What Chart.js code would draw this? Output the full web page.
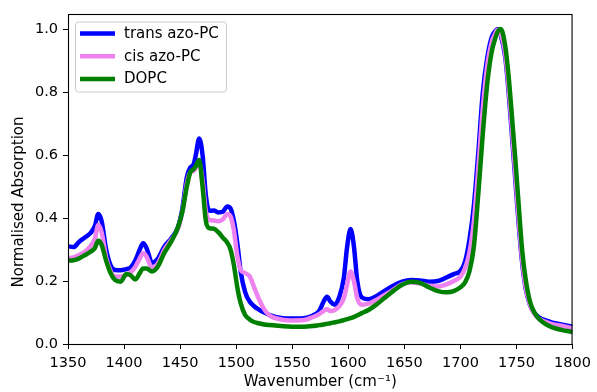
<!DOCTYPE html>
<html>
<head>
<meta charset="utf-8">
<script src="https://cdn.jsdelivr.net/npm/chart.js@4/dist/chart.umd.min.js"></script>
<style>
  html, body { margin: 0; padding: 0; background: #fff; }
  #wrap { width: 597px; height: 392px; }
</style>
</head>
<body>
<div id="wrap"><canvas id="chart" width="597" height="392"></canvas></div>
<script>
(function () {
  'use strict';

  // wavenumber grid (cm-1) the spectra were read at
  var wavenumber = [
    1350, 1355, 1360, 1365, 1370, 1374, 1377, 1380, 1384, 1388,
    1392, 1397, 1402, 1406, 1410, 1414, 1417, 1420, 1425, 1430,
    1436, 1442, 1448, 1452, 1456, 1459, 1462, 1464, 1467, 1470,
    1473, 1476, 1480, 1484, 1488, 1492, 1495, 1498, 1501, 1504,
    1508, 1512, 1516, 1520, 1525, 1530, 1540, 1550, 1560, 1568,
    1574, 1578, 1581, 1584, 1588, 1592, 1596, 1599, 1602, 1605,
    1608, 1612, 1618, 1625, 1632, 1640, 1648, 1656, 1664, 1672,
    1680, 1688, 1694, 1700, 1704, 1708, 1712, 1716, 1720, 1724,
    1728, 1731, 1733, 1736, 1740, 1743, 1746, 1749, 1752, 1755,
    1758, 1762, 1766, 1770, 1776, 1782, 1790, 1800
  ];

  var transAzoPC = [
    0.310, 0.308, 0.325, 0.338, 0.352, 0.375, 0.413, 0.390, 0.300, 0.250,
    0.235, 0.234, 0.238, 0.243, 0.265, 0.300, 0.320, 0.305, 0.258, 0.270,
    0.310, 0.335, 0.370, 0.430, 0.530, 0.560, 0.570, 0.600, 0.653, 0.600,
    0.470, 0.423, 0.424, 0.418, 0.420, 0.437, 0.430, 0.390, 0.320, 0.230,
    0.165, 0.135, 0.120, 0.110, 0.100, 0.092, 0.083, 0.081, 0.082, 0.090,
    0.105, 0.135, 0.150, 0.135, 0.125, 0.150, 0.210, 0.310, 0.365, 0.310,
    0.200, 0.148, 0.142, 0.152, 0.168, 0.185, 0.198, 0.203, 0.202, 0.198,
    0.200, 0.212, 0.222, 0.232, 0.260, 0.330, 0.440, 0.610, 0.800, 0.910,
    0.975, 0.993, 1.000, 0.980, 0.910, 0.800, 0.660, 0.520, 0.380, 0.260,
    0.180, 0.125, 0.098, 0.085, 0.075, 0.068, 0.062, 0.055
  ];

  var cisAzoPC = [
    0.272, 0.275, 0.283, 0.293, 0.310, 0.335, 0.378, 0.355, 0.275, 0.232,
    0.214, 0.214, 0.220, 0.228, 0.245, 0.272, 0.288, 0.278, 0.242, 0.255,
    0.300, 0.330, 0.365, 0.420, 0.510, 0.545, 0.550, 0.560, 0.575, 0.520,
    0.420, 0.394, 0.392, 0.390, 0.395, 0.413, 0.405, 0.360, 0.280, 0.235,
    0.225, 0.215, 0.180, 0.145, 0.110, 0.090, 0.078, 0.075, 0.076, 0.085,
    0.095, 0.105, 0.110, 0.105, 0.108, 0.120, 0.145, 0.190, 0.230, 0.200,
    0.145, 0.125, 0.128, 0.140, 0.155, 0.172, 0.190, 0.195, 0.192, 0.185,
    0.183, 0.190, 0.200, 0.214, 0.240, 0.290, 0.390, 0.560, 0.750, 0.885,
    0.960, 0.985, 0.998, 0.985, 0.920, 0.815, 0.680, 0.540, 0.395, 0.270,
    0.185, 0.125, 0.095, 0.080, 0.070, 0.063, 0.058, 0.050
  ];

  var dopc = [
    0.265, 0.266, 0.272, 0.282, 0.293, 0.305, 0.328, 0.315, 0.265, 0.225,
    0.203, 0.198, 0.222, 0.218, 0.205, 0.225, 0.240, 0.240, 0.230, 0.245,
    0.290, 0.325, 0.370, 0.420, 0.500, 0.545, 0.555, 0.565, 0.584, 0.500,
    0.390, 0.368, 0.366, 0.355, 0.338, 0.322, 0.300, 0.250, 0.180, 0.130,
    0.092, 0.078, 0.070, 0.066, 0.062, 0.060, 0.057, 0.055, 0.055, 0.057,
    0.060, 0.062, 0.064, 0.066, 0.069, 0.072, 0.076, 0.079, 0.082, 0.086,
    0.091, 0.098, 0.108, 0.125, 0.145, 0.168, 0.188, 0.198, 0.194, 0.180,
    0.168, 0.164, 0.168, 0.180, 0.195, 0.230, 0.310, 0.480, 0.670, 0.830,
    0.930, 0.970, 0.990, 1.000, 0.945, 0.850, 0.720, 0.585, 0.440, 0.300,
    0.210, 0.135, 0.100, 0.080, 0.063, 0.053, 0.045, 0.038
  ];

  var seriesLabels = ['trans azo-PC', 'cis azo-PC', 'DOPC'];
  var seriesColors = ['#0000ff', '#ee82ee', '#008000'];
  var xTicks = [1350, 1400, 1450, 1500, 1550, 1600, 1650, 1700, 1750, 1800];
  var yTicks = [0.0, 0.2, 0.4, 0.6, 0.8, 1.0];

  var FONT = 'DejaVu Sans';
  Chart.defaults.font.family = FONT;
  Chart.defaults.color = '#000';

  function toPoints(ys) {
    return wavenumber.map(function (x, i) { return { x: x, y: ys[i] }; });
  }

  var seriesData = [transAzoPC, cisAzoPC, dopc];
  var datasets = seriesData.map(function (ys, i) {
    return {
      label: seriesLabels[i],
      data: toPoints(ys),
      borderColor: seriesColors[i],
      backgroundColor: seriesColors[i],
      borderWidth: 4.5,
      pointRadius: 0,
      fill: false,
      cubicInterpolationMode: 'monotone',
      order: seriesData.length - i   // later series drawn on top, like matplotlib
    };
  });

  // black box round the axes, rotated y label and a matplotlib-style legend
  var decorPlugin = {
    id: 'decor',
    afterDraw: function (chart) {
      var ctx = chart.ctx;
      var a = chart.chartArea;
      ctx.save();

      ctx.strokeStyle = '#000';
      ctx.lineWidth = 1.1;
      ctx.strokeRect(a.left + 0.5, a.top + 0.5, a.right - a.left - 1, a.bottom - a.top);

      ctx.fillStyle = '#000';
      ctx.font = '15px "' + FONT + '"';
      ctx.textAlign = 'center';
      ctx.textBaseline = 'middle';
      ctx.save();
      ctx.translate(19, 202);
      ctx.rotate(-Math.PI / 2);
      ctx.fillText('Normalised Absorption', 0, 0);
      ctx.restore();

      // legend
      var bx = 75.5, by = 22, bw = 151, bh = 70, r = 3;
      ctx.beginPath();
      ctx.moveTo(bx + r, by);
      ctx.arcTo(bx + bw, by, bx + bw, by + bh, r);
      ctx.arcTo(bx + bw, by + bh, bx, by + bh, r);
      ctx.arcTo(bx, by + bh, bx, by, r);
      ctx.arcTo(bx, by, bx + bw, by, r);
      ctx.closePath();
      ctx.fillStyle = 'rgba(255,255,255,0.8)';
      ctx.fill();
      ctx.strokeStyle = '#cccccc';
      ctx.lineWidth = 1;
      ctx.stroke();

      ctx.textAlign = 'left';
      chart.data.datasets.forEach(function (ds, i) {
        var y = 33.5 + i * 22.7;
        ctx.beginPath();
        ctx.strokeStyle = ds.borderColor;
        ctx.lineWidth = 4.5;
        ctx.moveTo(80, y);
        ctx.lineTo(115, y);
        ctx.stroke();
        ctx.fillStyle = '#000';
        ctx.fillText(ds.label, 124, y + 0.5);
      });

      ctx.restore();
    }
  };

  new Chart(document.getElementById('chart'), {
    type: 'line',
    data: { datasets: datasets },
    plugins: [decorPlugin],
    options: {
      responsive: false,
      animation: false,
      events: [],
      layout: { padding: { left: 0, top: 14, right: 21, bottom: 0 } },
      plugins: {
        legend: { display: false },
        tooltip: { enabled: false },
        title: { display: false }
      },
      scales: {
        x: {
          type: 'linear',
          min: 1350,
          max: 1800,
          afterBuildTicks: function (scale) {
            scale.ticks = xTicks.map(function (v) { return { value: v }; });
          },
          afterFit: function (scale) { scale.height = 48; },
          ticks: {
            autoSkip: false,
            maxRotation: 0,
            padding: 6,
            font: { size: 14.5 },
            color: '#000',
            callback: function (v) { return String(v); }
          },
          grid: {
            display: true,
            drawOnChartArea: false,
            drawTicks: true,
            tickLength: 5,
            color: '#000',
            lineWidth: 1
          },
          border: { display: false },
          title: {
            display: true,
            text: 'Wavenumber (cm\u207B\u00B9)',
            font: { size: 15 },
            color: '#000',
            padding: { top: 0, bottom: 1 }
          }
        },
        y: {
          type: 'linear',
          min: 0,
          max: 1.048,
          afterBuildTicks: function (scale) {
            scale.ticks = yTicks.map(function (v) { return { value: v }; });
          },
          afterFit: function (scale) { scale.width = 68; },
          ticks: {
            padding: 5,
            font: { size: 14.5 },
            color: '#000',
            callback: function (v) { return v.toFixed(1); }
          },
          grid: {
            display: true,
            drawOnChartArea: false,
            drawTicks: true,
            tickLength: 5,
            color: '#000',
            lineWidth: 1
          },
          border: { display: false }
        }
      }
    }
  });
})();
</script>
</body>
</html>
